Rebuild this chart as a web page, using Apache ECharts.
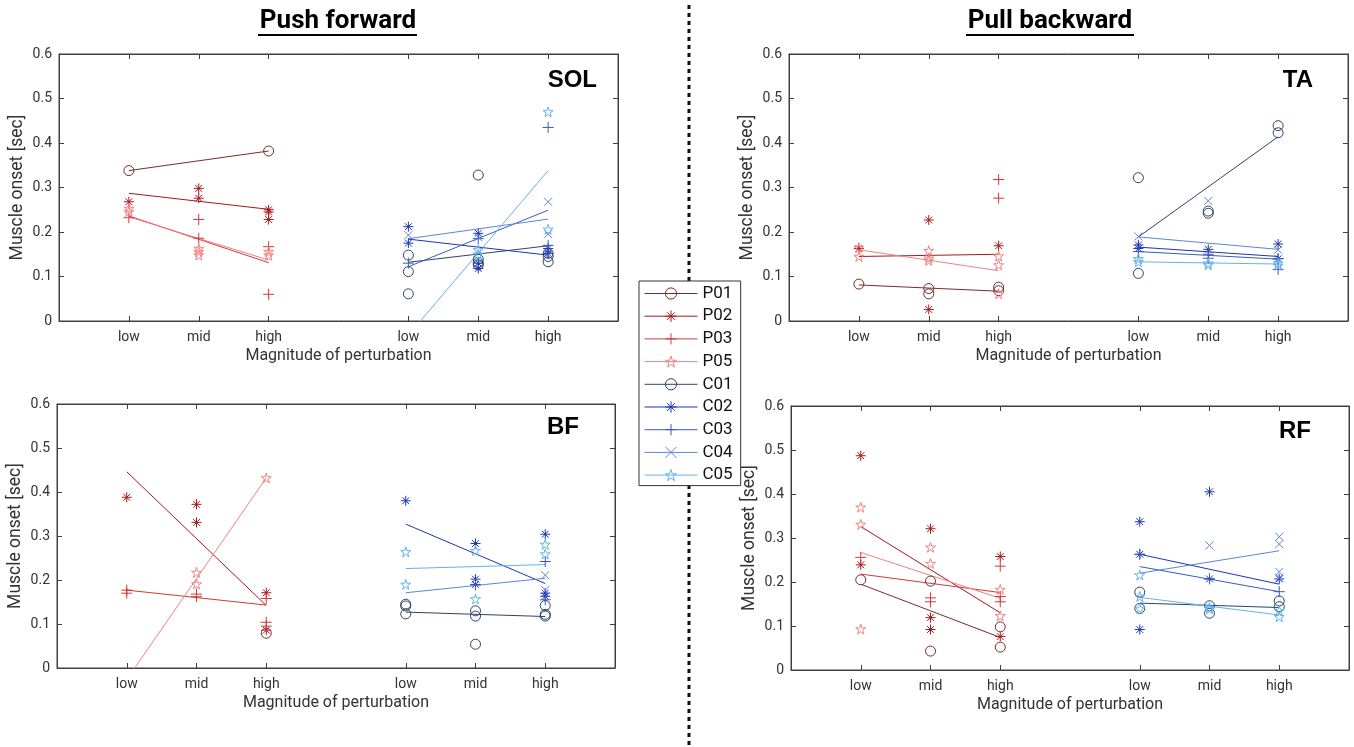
<!DOCTYPE html>
<html><head><meta charset="utf-8">
<script src="https://cdn.jsdelivr.net/npm/echarts@6/dist/echarts.min.js"></script>
<style>html,body{margin:0;padding:0;background:#fff}#c{width:1354px;height:747px}</style>
</head><body><div id="c"></div><script>
// ---------- DATA ----------
const magnitudes = ['low', 'mid', 'high'];
const participants = ['P01', 'P02', 'P03', 'P05', 'C01', 'C02', 'C03', 'C04', 'C05'];
const yTickValues = [0, 0.1, 0.2, 0.3, 0.4, 0.5, 0.6];

// individual trials: [participant, magnitude, onset (s)]
const SOL_points = [
  ['P01','low',0.338],['P01','high',0.382],
  ['P02','low',0.268],['P02','mid',0.298],['P02','mid',0.276],['P02','high',0.250],['P02','high',0.245],['P02','high',0.228],
  ['P03','low',0.232],['P03','mid',0.228],['P03','mid',0.186],['P03','high',0.167],['P03','high',0.060],
  ['P05','low',0.253],['P05','low',0.246],['P05','mid',0.163],['P05','mid',0.156],['P05','mid',0.148],['P05','high',0.156],['P05','high',0.148],
  ['C01','low',0.148],['C01','low',0.111],['C01','low',0.061],['C01','mid',0.328],['C01','mid',0.139],['C01','mid',0.131],['C01','mid',0.126],['C01','high',0.152],['C01','high',0.145],['C01','high',0.133],
  ['C02','low',0.212],['C02','low',0.175],['C02','mid',0.197],['C02','mid',0.130],['C02','mid',0.118],['C02','high',0.163],['C02','high',0.152],
  ['C03','low',0.130],['C03','mid',0.185],['C03','high',0.435],['C03','high',0.170],
  ['C04','low',0.193],['C04','mid',0.188],['C04','high',0.268],['C04','high',0.195],
  ['C05','mid',0.160],['C05','mid',0.150],['C05','high',0.470],['C05','high',0.206]
];
// fitted lines: [participant, value at low, value at high]
const SOL_fits = [
  ['P01',0.338,0.382],['P02',0.287,0.251],['P03',0.236,0.131],['P05',0.234,0.137],
  ['C01',0.132,0.169],['C02',0.184,0.148],['C03',0.122,0.249],['C04',0.185,0.229],['C05',-0.032,0.338]
];

const TA_points = [
  ['P01','low',0.083],['P01','mid',0.073],['P01','mid',0.061],['P01','high',0.076],['P01','high',0.068],
  ['P02','low',0.163],['P02','mid',0.227],['P02','mid',0.026],['P02','high',0.169],
  ['P03','high',0.318],['P03','high',0.276],
  ['P05','low',0.165],['P05','low',0.145],['P05','mid',0.158],['P05','mid',0.141],['P05','mid',0.136],['P05','high',0.146],['P05','high',0.126],['P05','high',0.061],
  ['C01','low',0.322],['C01','low',0.107],['C01','mid',0.247],['C01','mid',0.242],['C01','high',0.439],['C01','high',0.423],
  ['C02','low',0.171],['C02','low',0.163],['C02','mid',0.161],['C02','high',0.173],['C02','high',0.140],
  ['C03','low',0.156],['C03','mid',0.150],['C03','mid',0.141],['C03','high',0.116],['C03','high',0.140],
  ['C04','low',0.190],['C04','mid',0.270],['C04','high',0.160],
  ['C05','low',0.133],['C05','low',0.140],['C05','mid',0.126],['C05','mid',0.130],['C05','high',0.130],['C05','high',0.125]
];
const TA_fits = [
  ['P01',0.081,0.067],['P02',0.145,0.150],['P05',0.160,0.113],
  ['C01',0.189,0.414],['C02',0.166,0.145],['C03',0.156,0.139],['C04',0.189,0.161],['C05',0.133,0.128]
];

const BF_points = [
  ['P01','high',0.079],
  ['P02','low',0.388],['P02','mid',0.372],['P02','mid',0.331],['P02','high',0.171],['P02','high',0.086],
  ['P03','low',0.177],['P03','low',0.170],['P03','mid',0.168],['P03','mid',0.162],['P03','high',0.158],['P03','high',0.104],['P03','high',0.095],
  ['P05','mid',0.217],['P05','mid',0.191],['P05','high',0.432],
  ['C01','low',0.145],['C01','low',0.141],['C01','low',0.123],['C01','mid',0.130],['C01','mid',0.118],['C01','mid',0.054],['C01','high',0.142],['C01','high',0.122],['C01','high',0.118],
  ['C02','low',0.380],['C02','mid',0.283],['C02','mid',0.202],['C02','mid',0.190],['C02','high',0.304],['C02','high',0.170],['C02','high',0.163],
  ['C03','mid',0.189],['C03','high',0.242],['C03','high',0.155],
  ['C04','high',0.211],['C04','high',0.177],
  ['C05','low',0.264],['C05','low',0.190],['C05','mid',0.267],['C05','mid',0.157],['C05','high',0.281],['C05','high',0.259]
];
const BF_fits = [
  ['P02',0.446,0.142],['P03',0.177,0.143],['P05',-0.026,0.432],
  ['C01',0.127,0.117],['C02',0.327,0.192],['C04',0.171,0.204],['C05',0.226,0.235]
];

const RF_points = [
  ['P01','low',0.205],['P01','mid',0.202],['P01','mid',0.043],['P01','high',0.098],['P01','high',0.052],
  ['P02','low',0.487],['P02','low',0.239],['P02','mid',0.321],['P02','mid',0.119],['P02','mid',0.092],['P02','high',0.258],['P02','high',0.076],
  ['P03','low',0.256],['P03','mid',0.164],['P03','mid',0.155],['P03','high',0.236],['P03','high',0.167],['P03','high',0.155],
  ['P05','low',0.370],['P05','low',0.331],['P05','low',0.093],['P05','mid',0.279],['P05','mid',0.242],['P05','high',0.183],['P05','high',0.123],
  ['C01','low',0.177],['C01','low',0.140],['C01','mid',0.146],['C01','mid',0.129],['C01','high',0.157],['C01','high',0.144],
  ['C02','low',0.337],['C02','low',0.263],['C02','low',0.092],['C02','mid',0.405],['C02','mid',0.207],['C02','high',0.207],
  ['C03','low',0.263],['C03','mid',0.207],['C03','high',0.178],
  ['C04','mid',0.283],['C04','high',0.303],['C04','high',0.286],['C04','high',0.223],['C04','high',0.210],
  ['C05','low',0.216],['C05','low',0.167],['C05','low',0.140],['C05','mid',0.142],['C05','mid',0.139],['C05','high',0.121],['C05','high',0.135]
];
const RF_fits = [
  ['P01',0.195,0.074],['P02',0.326,0.130],['P03',0.218,0.176],['P05',0.267,0.163],
  ['C01',0.152,0.142],['C02',0.263,0.195],['C03',0.235,0.178],['C04',0.220,0.271],['C05',0.165,0.125]
];

// ---------- STYLE / LAYOUT ----------
const SYM = {
  circle: 'circle',
  asterisk: 'path://M5,0L5,10M0,5L10,5M1.6,1.6L8.4,8.4M8.4,1.6L1.6,8.4',
  plus: 'path://M5,0L5,10M0,5L10,5',
  cross: 'path://M0,0L10,10M10,0L0,10',
  star: 'path://M5,0L6.123,3.455L9.755,3.455L6.817,5.59L7.939,9.045L5,6.91L2.061,9.045L3.183,5.59L0.245,3.455L3.877,3.455Z'
};
const pStyle = {
  P01: {color: '#7b2b2b', symbol: SYM.circle, size: 10},
  P02: {color: '#a3191c', symbol: SYM.asterisk, size: 10},
  P03: {color: '#d23a3a', symbol: SYM.plus, size: 11},
  P05: {color: '#f08282', symbol: SYM.star, size: 10},
  C01: {color: '#2b4566', symbol: SYM.circle, size: 10},
  C02: {color: '#1c36b4', symbol: SYM.asterisk, size: 10},
  C03: {color: '#3859c2', symbol: SYM.plus, size: 11},
  C04: {color: '#5b86d8', symbol: SYM.cross, size: 8},
  C05: {color: '#63b2ee', symbol: SYM.star, size: 10}
};
const panels = [
  {label: 'SOL', points: SOL_points, fits: SOL_fits, grid: {left: 59, top: 54, width: 559, height: 267}, lab: [597, 80]},
  {label: 'TA',  points: TA_points,  fits: TA_fits,  grid: {left: 789, top: 54, width: 559, height: 267}, lab: [1313, 80]},
  {label: 'BF',  points: BF_points,  fits: BF_fits,  grid: {left: 57, top: 404, width: 558, height: 264}, lab: [579, 427]},
  {label: 'RF',  points: RF_points,  fits: RF_fits,  grid: {left: 791, top: 406, width: 558, height: 264}, lab: [1311, 431]}
];
const xOf = (p, m) => magnitudes.indexOf(m) + 1 + (p[0] === 'C' ? 4 : 0);
const tickPos = [];
['P', 'C'].forEach(side => magnitudes.forEach(m => tickPos.push(xOf(side, m))));
const tickLabel = v => { const i = (v - 1) % 4; return magnitudes[i] || ''; };

const AX = '#404040', TXT = '#333', FONT = 'Roboto';
const grids = [], xAxes = [], yAxes = [], series = [], graphics = [];

panels.forEach((pn, g) => {
  grids.push(Object.assign({show: true, borderColor: AX, borderWidth: 1, backgroundColor: '#fff'}, pn.grid));
  xAxes.push({gridIndex: g, type: 'value', min: 0, max: 8, interval: 1, position: 'bottom',
    axisLine: {show: true, onZero: false, lineStyle: {color: AX}},
    axisTick: {show: true, inside: true, length: 5, customValues: tickPos, lineStyle: {color: AX}},
    axisLabel: {show: true, customValues: tickPos, formatter: tickLabel, color: TXT, fontSize: 14, fontFamily: FONT, margin: 9},
    splitLine: {show: false},
    name: 'Magnitude of perturbation', nameLocation: 'middle', nameGap: 27,
    nameTextStyle: {color: TXT, fontSize: 16, fontFamily: FONT}});
  xAxes.push({gridIndex: g, type: 'value', min: 0, max: 8, interval: 1, position: 'top',
    axisLine: {show: true, onZero: false, lineStyle: {color: AX}},
    axisTick: {show: true, inside: true, length: 5, customValues: tickPos, lineStyle: {color: AX}},
    axisLabel: {show: false}, splitLine: {show: false}});
  yAxes.push({gridIndex: g, type: 'value', min: 0, max: 0.6, interval: 0.1, position: 'left',
    axisLine: {show: true, onZero: false, lineStyle: {color: AX}},
    axisTick: {show: true, inside: true, length: 5, lineStyle: {color: AX}},
    axisLabel: {color: TXT, fontSize: 14, fontFamily: FONT, margin: 7},
    splitLine: {show: false},
    name: 'Muscle onset [sec]', nameLocation: 'middle', nameGap: 32,
    nameTextStyle: {color: TXT, fontSize: 17.5, fontFamily: FONT}});
  yAxes.push({gridIndex: g, type: 'value', min: 0, max: 0.6, interval: 0.1, position: 'right',
    axisLine: {show: true, onZero: false, lineStyle: {color: AX}},
    axisTick: {show: true, inside: true, length: 5, lineStyle: {color: AX}},
    axisLabel: {show: false}, splitLine: {show: false}});
  graphics.push({type: 'text', x: pn.lab[0], y: pn.lab[1], z: 100,
    style: {text: pn.label, x: 0, y: 0, align: 'right', verticalAlign: 'middle', fill: '#000',
      font: 'bold 24px "Liberation Sans", Arial, sans-serif'}});
});

// fitted lines first (legend icon picks the first series of a name)
panels.forEach((pn, g) => {
  pn.fits.forEach(([p, lo, hi]) => {
    const st = pStyle[p];
    series.push({type: 'line', name: p, xAxisIndex: 2 * g, yAxisIndex: 2 * g,
      data: [[xOf(p, 'low'), lo], [xOf(p, 'high'), hi]],
      showSymbol: false, symbol: st.symbol, symbolSize: st.size, clip: true, silent: true, z: 2,
      lineStyle: {color: st.color, width: 1},
      itemStyle: {color: 'rgba(0,0,0,0)', borderColor: st.color, borderWidth: 1},
      emphasis: {disabled: true}, animation: false});
  });
});
panels.forEach((pn, g) => {
  participants.forEach(p => {
    const pts = pn.points.filter(d => d[0] === p).map(d => [xOf(p, d[1]), d[2]]);
    if (!pts.length) return;
    const st = pStyle[p];
    series.push({type: 'scatter', name: p, xAxisIndex: 2 * g, yAxisIndex: 2 * g, data: pts,
      symbol: st.symbol, symbolSize: st.size, z: 3, silent: true,
      itemStyle: {color: 'rgba(0,0,0,0)', borderColor: st.color, borderWidth: 1, opacity: 1},
      emphasis: {disabled: true}, animation: false});
  });
});

// section titles, underlines, divider
[['Push forward', 338], ['Pull backward', 1050]].forEach(([t, cx]) => {
  graphics.push({type: 'text', x: cx, y: 21, z: 100,
    style: {text: t, align: 'center', verticalAlign: 'middle', fill: '#000',
      font: 'bold 26px Roboto, "Liberation Sans", sans-serif'}});
});
graphics.push({type: 'line', shape: {x1: 258, y1: 35, x2: 417, y2: 35}, style: {stroke: '#000', lineWidth: 2}});
graphics.push({type: 'line', shape: {x1: 966, y1: 35, x2: 1134, y2: 35}, style: {stroke: '#000', lineWidth: 2}});
graphics.push({type: 'line', shape: {x1: 689, y1: 5, x2: 689, y2: 746}, z: 0,
  style: {stroke: '#111', lineWidth: 3, lineDash: [4, 4]}});

const chart = echarts.init(document.getElementById('c'), null, {renderer: 'canvas'});
chart.setOption({
  animation: false,
  backgroundColor: '#fff',
  grid: grids, xAxis: xAxes, yAxis: yAxes, series: series,
  legend: {data: participants, orient: 'vertical', left: 639, top: 281,
    itemWidth: 53, itemHeight: 14, itemGap: 5.7, padding: [4, 8, 2, 5],
    borderColor: '#333', borderWidth: 1, backgroundColor: '#fff', selectedMode: false,
    itemStyle: {borderWidth: 1}, lineStyle: {width: 1},
    textStyle: {color: '#111', fontSize: 17, fontFamily: FONT}, z: 50},
  graphic: graphics
});
</script></body></html>
